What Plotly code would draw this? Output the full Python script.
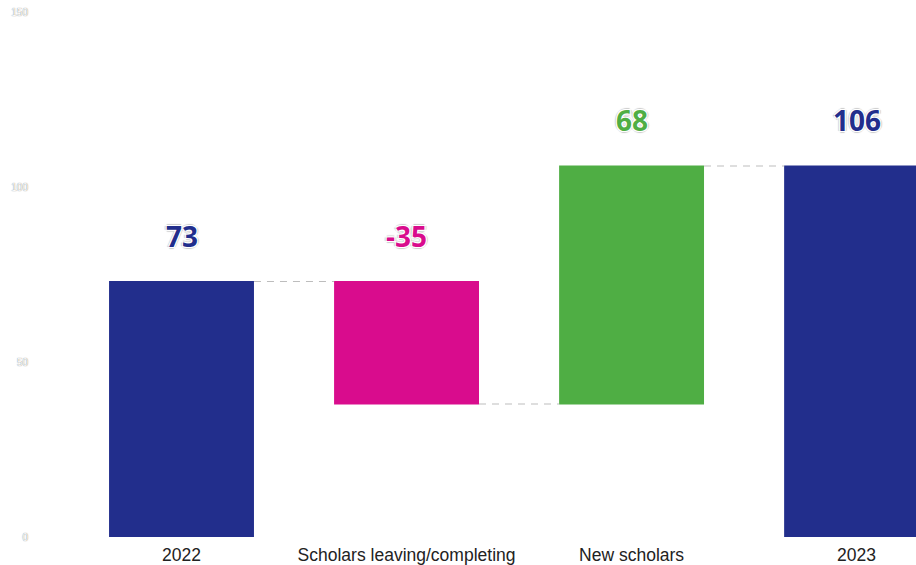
import plotly.graph_objects as go

# Scholar counts, year over year
categories = ["2022", "Scholars leaving/completing", "New scholars", "2023"]
measures = ["absolute", "relative", "relative", "total"]
values = [73, -35, 68, 106]
label_texts = ["73", "-35", "68", "106"]

navy = "#222E8C"
magenta = "#D90C8D"
green = "#4FAE44"
label_colors = [navy, magenta, green, navy]

fig = go.Figure()

fig.add_trace(go.Waterfall(
    x=categories,
    y=values,
    measure=measures,
    increasing=dict(marker=dict(color=green)),
    decreasing=dict(marker=dict(color=magenta)),
    totals=dict(marker=dict(color=navy)),
    connector=dict(mode="between", line=dict(color="#BDBDBD", width=1, dash="7px,6px")),
    textinfo="none",
    hoverinfo="skip",
    showlegend=False,
))

# Label each bar above its upper edge
running = 0
tops = []
for m, v in zip(measures, values):
    if m == "absolute":
        prev, running = running, v
        tops.append(max(0, v))
    elif m == "relative":
        prev, running = running, running + v
        tops.append(max(prev, running))
    else:
        tops.append(running)

halo = ("-1px -1px 0 #fff, 1px -1px 0 #fff, -1px 1px 0 #fff, 1px 1px 0 #fff, "
        "-2px 0 1px #ccc, 2px 0 1px #ccc, 0 -2px 1px #ccc, 0 2px 1px #ccc")
for i, (top, txt, col) in enumerate(zip(tops, label_texts, label_colors)):
    fig.add_annotation(
        x=i, y=top, text=txt, showarrow=False,
        xanchor="center", yanchor="middle", yshift=46,
        font=dict(family="Open Sans", size=28, color=col, weight="bold", shadow=halo),
    )

fig.update_layout(
    width=916, height=565,
    margin=dict(l=69, r=0, t=12, b=28, autoexpand=False),
    paper_bgcolor="white",
    plot_bgcolor="white",
    waterfallgap=0.356,
    xaxis=dict(
        type="category",
        automargin=False,
        range=[-0.5, 3.264],
        showgrid=False, zeroline=False, showline=False,
        ticks="", ticklabelstandoff=5,
        tickfont=dict(family="Liberation Sans", size=17.5, color="#222"),
    ),
    yaxis=dict(
        automargin=False,
        range=[0, 150],
        tickvals=[0, 50, 100, 150],
        showgrid=False, zeroline=False, showline=False,
        ticks="", ticklabelstandoff=40,
        tickfont=dict(family="Liberation Sans", size=10, color="#ffffff",
                      shadow="0 0 1px #555"),
    ),
)

fig.write_html("out.html")
